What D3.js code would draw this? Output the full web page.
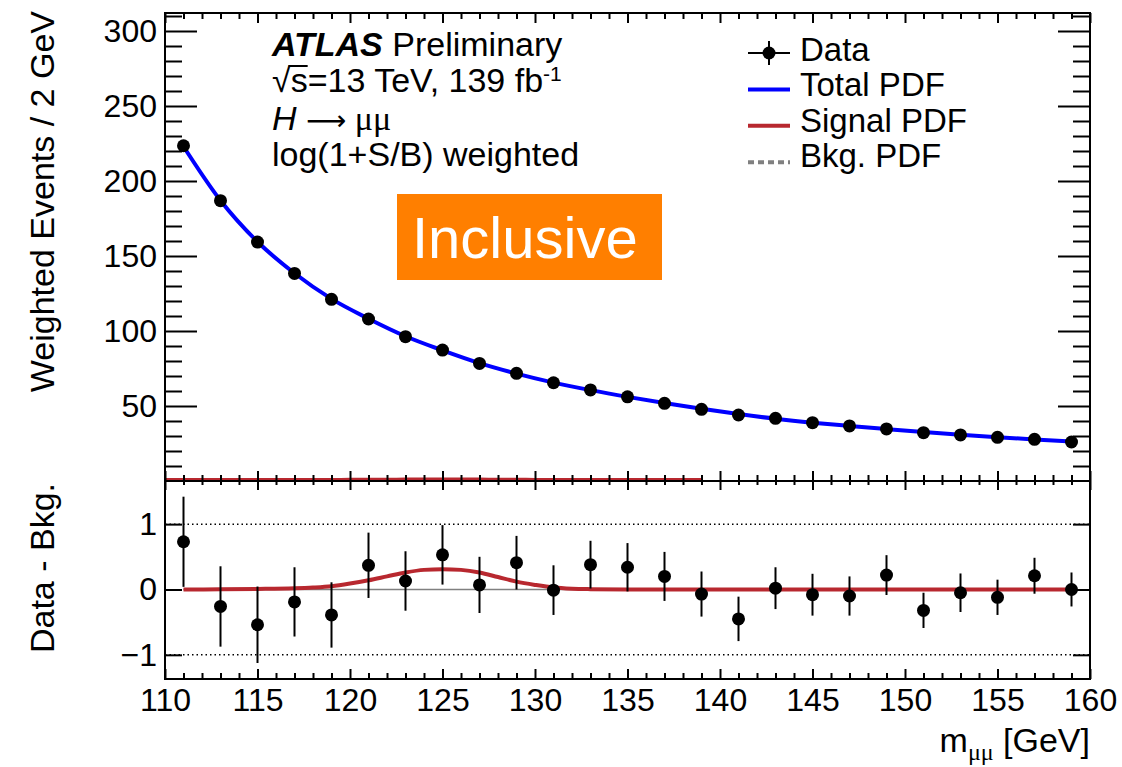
<!DOCTYPE html>
<html>
<head>
<meta charset="utf-8">
<script src="https://cdn.jsdelivr.net/npm/d3@7"></script>
<style>
  html, body { margin: 0; padding: 0; background: #fff; }
  svg { display: block; }
  text { font-family: "Liberation Sans", Arial, Helvetica, sans-serif; fill: #000; }
</style>
</head>
<body>
<svg id="chart" width="1122" height="767"></svg>
<script>
// Bin centres of the dimuon invariant mass [GeV]
const massBins = [111, 113, 115, 117, 119, 121, 123, 125, 127, 129, 131, 133, 135,
                  137, 139, 141, 143, 145, 147, 149, 151, 153, 155, 157, 159];

// Weighted events per 2 GeV bin
const weightedEvents = [223.5, 186.9, 159.3, 138.4, 121.1, 108.0, 96.2, 87.3, 78.4, 71.8, 65.5, 60.7, 56.1,
                        51.8, 47.8, 44.0, 41.8, 38.9, 36.7, 34.7, 32.2, 30.7, 29.1, 27.8, 26.0];

// Total PDF (signal + background) evaluated at the bin centres
const totalPdf = [223.0, 187.0, 159.5, 138.5, 121.4, 108.2, 96.5, 87.1, 78.6, 71.6, 65.6, 60.6, 56.1,
                  52.0, 48.1, 44.6, 41.5, 38.9, 36.7, 34.6, 32.6, 30.8, 29.2, 27.7, 26.3];

// Data minus background fit, with its uncertainty
const dataMinusBkg = [0.73, -0.26, -0.54, -0.19, -0.39, 0.37, 0.13, 0.53, 0.07, 0.41, -0.01, 0.38, 0.34,
                      0.20, -0.07, -0.45, 0.02, -0.08, -0.10, 0.22, -0.32, -0.05, -0.12, 0.21, 0.00];
const dataErr = [0.69, 0.615, 0.585, 0.53, 0.50, 0.50, 0.455, 0.455, 0.43, 0.41, 0.38, 0.365, 0.37,
                 0.375, 0.345, 0.34, 0.32, 0.32, 0.30, 0.305, 0.27, 0.295, 0.27, 0.275, 0.26];

// Signal PDF shape
const signalMass = [111, 113, 115, 117, 118, 119, 120, 121, 122, 123, 124, 125, 126, 127, 128,
                    129, 130, 131, 132, 133, 135, 137, 139, 145, 150, 159];
const signalPdf  = [0, 0.003, 0.008, 0.018, 0.03, 0.05, 0.09, 0.14, 0.20, 0.26, 0.30, 0.31, 0.30, 0.26, 0.19,
                    0.12, 0.07, 0.03, 0.012, 0.005, 0, 0, 0, 0, 0, 0];
// In the upper panel the signal curve is only drawn up to this mass
const signalTopEnd = 139;

// Axis ticks
const xMajorTicks = [110, 115, 120, 125, 130, 135, 140, 145, 150, 155, 160];
const xMinorTicks = d3.range(110, 160.01, 1);
const yTopMajorTicks = [50, 100, 150, 200, 250, 300];
const yTopMinorTicks = d3.range(10, 311, 10);
const yBotMajorTicks = [-1, 0, 1];

const legendLabels = ["Data", "Total PDF", "Signal PDF", "Bkg. PDF"];

// ---------------------------------------------------------------------------
const svg = d3.select("#chart");
const L = 165, R = 1090;
const topY0 = 13, topY1 = 481, botY0 = 481, botY1 = 679;

const x = d3.scaleLinear().domain([110, 160]).range([L, R]);
const yTop = d3.scaleLinear().domain([0, 312]).range([topY1, topY0]);
const yBot = d3.scaleLinear().domain([-1.37, 1.66]).range([botY1, botY0]);

const BLUE = "#0000ff", RED = "#b8282f", GREY = "#808080";
const tickFont = "32px";

function styleAxis(g) {
  g.select(".domain").remove();
  g.selectAll(".tick line").attr("stroke", "#000").attr("stroke-width", 2);
  g.selectAll(".tick text").style("font-size", tickFont).attr("fill", "#000");
}

// ---------------- upper panel ----------------
const upper = svg.append("g");

// signal PDF near zero in upper panel
const sigTopPts = signalMass.map((m, i) => [m, signalPdf[i]]).filter(d => d[0] <= signalTopEnd);
sigTopPts.unshift([110, 0]);
upper.append("path")
  .attr("d", d3.line().x(d => x(d[0])).y(d => yTop(d[1]) - 1).curve(d3.curveMonotoneX)(sigTopPts))
  .attr("fill", "none").attr("stroke", RED).attr("stroke-width", 4);

// total PDF
upper.append("path")
  .attr("d", d3.line().x((d, i) => x(massBins[i])).y(d => yTop(d)).curve(d3.curveMonotoneX)(totalPdf))
  .attr("fill", "none").attr("stroke", BLUE).attr("stroke-width", 4);

// data points
upper.selectAll("line.err").data(massBins).join("line")
  .attr("x1", d => x(d)).attr("x2", d => x(d))
  .attr("y1", (d, i) => yTop(weightedEvents[i] - dataErr[i]))
  .attr("y2", (d, i) => yTop(weightedEvents[i] + dataErr[i]))
  .attr("stroke", "#000").attr("stroke-width", 2);
upper.selectAll("circle").data(massBins).join("circle")
  .attr("cx", d => x(d)).attr("cy", (d, i) => yTop(weightedEvents[i]))
  .attr("r", 6.5).attr("fill", "#000");

// axes of upper panel
upper.append("g").attr("transform", `translate(${L},0)`)
  .call(d3.axisLeft(yTop).tickValues(yTopMajorTicks).tickSizeInner(-32).tickSizeOuter(0).tickPadding(8))
  .call(styleAxis);
upper.append("g").attr("transform", `translate(${L},0)`)
  .call(d3.axisLeft(yTop).tickValues(yTopMinorTicks.filter(v => v % 50 !== 0)).tickSizeInner(-17).tickSizeOuter(0).tickFormat(""))
  .call(styleAxis);
upper.append("g").attr("transform", `translate(${R},0)`)
  .call(d3.axisRight(yTop).tickValues(yTopMajorTicks).tickSizeInner(-32).tickSizeOuter(0).tickFormat(""))
  .call(styleAxis);
upper.append("g").attr("transform", `translate(${R},0)`)
  .call(d3.axisRight(yTop).tickValues(yTopMinorTicks.filter(v => v % 50 !== 0)).tickSizeInner(-17).tickSizeOuter(0).tickFormat(""))
  .call(styleAxis);
// x ticks on the upper panel (top edge and bottom edge)
[[topY0, d3.axisTop], [topY1, d3.axisBottom]].forEach(([yy, ax]) => {
  upper.append("g").attr("transform", `translate(0,${yy})`)
    .call(ax(x).tickValues(xMajorTicks).tickSizeInner(-10).tickSizeOuter(0).tickFormat("")).call(styleAxis);
  upper.append("g").attr("transform", `translate(0,${yy})`)
    .call(ax(x).tickValues(xMinorTicks.filter(v => v % 5 !== 0)).tickSizeInner(-6).tickSizeOuter(0).tickFormat("")).call(styleAxis);
});
// downward ticks just below the split line (lower panel top edge)
upper.append("g").attr("transform", `translate(0,${botY0})`)
  .call(d3.axisTop(x).tickValues(xMajorTicks).tickSizeInner(-9).tickSizeOuter(0).tickFormat("")).call(styleAxis);
upper.append("g").attr("transform", `translate(0,${botY0})`)
  .call(d3.axisTop(x).tickValues(xMinorTicks.filter(v => v % 5 !== 0)).tickSizeInner(-4).tickSizeOuter(0).tickFormat("")).call(styleAxis);

upper.append("rect").attr("x", L).attr("y", topY0).attr("width", R - L).attr("height", topY1 - topY0)
  .attr("fill", "none").attr("stroke", "#000").attr("stroke-width", 2);

// ---------------- lower panel ----------------
const lower = svg.append("g");

// reference lines at +-1
[1, -1].forEach(v => {
  lower.append("line").attr("x1", L).attr("x2", R).attr("y1", yBot(v)).attr("y2", yBot(v))
    .attr("stroke", "#000").attr("stroke-width", 1.5).attr("stroke-dasharray", "1.5,3");
});
// background (zero) line
lower.append("line").attr("x1", x(massBins[0])).attr("x2", x(massBins[massBins.length - 1]))
  .attr("y1", yBot(0)).attr("y2", yBot(0))
  .attr("stroke", GREY).attr("stroke-width", 1.5);
// signal PDF
lower.append("path")
  .attr("d", d3.line().x((d, i) => x(signalMass[i])).y(d => yBot(d)).curve(d3.curveMonotoneX)(signalPdf))
  .attr("fill", "none").attr("stroke", RED).attr("stroke-width", 4);
// data minus background
lower.selectAll("line.err").data(massBins).join("line")
  .attr("x1", d => x(d)).attr("x2", d => x(d))
  .attr("y1", (d, i) => yBot(dataMinusBkg[i] - dataErr[i]))
  .attr("y2", (d, i) => yBot(dataMinusBkg[i] + dataErr[i]))
  .attr("stroke", "#000").attr("stroke-width", 2);
lower.selectAll("circle").data(massBins).join("circle")
  .attr("cx", d => x(d)).attr("cy", (d, i) => yBot(dataMinusBkg[i]))
  .attr("r", 6.5).attr("fill", "#000");

// axes of lower panel
lower.append("g").attr("transform", `translate(${L},0)`)
  .call(d3.axisLeft(yBot).tickValues(yBotMajorTicks).tickSizeInner(-17).tickSizeOuter(0).tickPadding(8)
    .tickFormat(d => d < 0 ? "\u2212" + Math.abs(d) : String(d)))
  .call(styleAxis);
lower.append("g").attr("transform", `translate(${R},0)`)
  .call(d3.axisRight(yBot).tickValues(yBotMajorTicks).tickSizeInner(-17).tickSizeOuter(0).tickFormat(""))
  .call(styleAxis);
lower.append("g").attr("transform", `translate(0,${botY1})`)
  .call(d3.axisBottom(x).tickValues(xMajorTicks).tickSizeInner(-10).tickSizeOuter(0).tickPadding(9))
  .call(styleAxis);
lower.append("g").attr("transform", `translate(0,${botY1})`)
  .call(d3.axisBottom(x).tickValues(xMinorTicks.filter(v => v % 5 !== 0)).tickSizeInner(-6).tickSizeOuter(0).tickFormat(""))
  .call(styleAxis);

lower.append("rect").attr("x", L).attr("y", botY0).attr("width", R - L).attr("height", botY1 - botY0)
  .attr("fill", "none").attr("stroke", "#000").attr("stroke-width", 2);

// ---------------- axis titles ----------------
svg.append("text").attr("transform", "translate(54,11) rotate(-90)")
  .attr("text-anchor", "end").style("font-size", "34px").text("Weighted Events / 2 GeV");
svg.append("text").attr("transform", `translate(54,${botY0 + 2}) rotate(-90)`)
  .attr("text-anchor", "end").style("font-size", "34px").text("Data - Bkg.");
const xt = svg.append("text").attr("x", R).attr("y", 752).attr("text-anchor", "end").style("font-size", "34px");
xt.append("tspan").text("m");
xt.append("tspan").attr("dy", 8).style("font-size", "24px").style("font-family", "'Liberation Serif', serif").text("\u03bc\u03bc");
xt.append("tspan").attr("dy", -8).text(" [GeV]");

// ---------------- labels ----------------
const lab = svg.append("g").style("font-size", "34px");
const l1 = lab.append("text").attr("x", 272).attr("y", 56);
l1.append("tspan").style("font-weight", "bold").style("font-style", "italic").text("ATLAS");
l1.append("tspan").text(" Preliminary");

const l2 = lab.append("text").attr("x", 272).attr("y", 92);
l2.append("tspan").text("\u221a");
l2.append("tspan").text("s=13 TeV, 139 fb");
l2.append("tspan").attr("dy", -11).style("font-size", "21px").text("-1");
// bar of the square root over "s"
{
  const node = l2.node();
  const wRoot = node.getSubStringLength(0, 1);
  const wS = node.getSubStringLength(1, 1);
  lab.append("line").attr("x1", 272 + wRoot - 2).attr("x2", 272 + wRoot + wS)
    .attr("y1", 92 - 26).attr("y2", 92 - 26).attr("stroke", "#000").attr("stroke-width", 2);
}

const l3 = lab.append("text").attr("x", 272).attr("y", 130);
l3.append("tspan").style("font-style", "italic").text("H");
l3.append("tspan").text(" ");
l3.append("tspan").style("font-family", "'DejaVu Sans', sans-serif").style("font-size", "28px").text("\u27f6");
l3.append("tspan").style("font-family", "'Liberation Serif', serif").text(" \u03bc\u03bc");
lab.append("text").attr("x", 272).attr("y", 166).text("log(1+S/B) weighted");

// category box
svg.append("rect").attr("x", 397).attr("y", 194).attr("width", 265).attr("height", 86).attr("fill", "#ff7f00");
svg.append("text").attr("x", 412).attr("y", 258).style("font-size", "58px").style("fill", "#fff").text("Inclusive");

// ---------------- legend ----------------
const leg = svg.append("g");
const symX0 = 748, symX1 = 790, symStep = 36.4, txtStep = 35.3;
legendLabels.forEach((name, i) => {
  const sy = 53 + i * symStep;
  leg.append("text").attr("x", 800).attr("y", 61 + i * txtStep).style("font-size", "33px").text(name);
  if (i === 0) {
    leg.append("line").attr("x1", symX0).attr("x2", symX1).attr("y1", sy).attr("y2", sy)
      .attr("stroke", "#000").attr("stroke-width", 2);
    leg.append("line").attr("x1", 769).attr("x2", 769).attr("y1", sy - 12).attr("y2", sy + 12)
      .attr("stroke", "#000").attr("stroke-width", 2);
    leg.append("circle").attr("cx", 769).attr("cy", sy).attr("r", 6.5).attr("fill", "#000");
  } else {
    const col = [null, BLUE, RED, GREY][i];
    leg.append("line").attr("x1", symX0).attr("x2", symX1).attr("y1", sy).attr("y2", sy)
      .attr("stroke", col).attr("stroke-width", 4)
      .attr("stroke-dasharray", i === 3 ? "6,4" : null);
  }
});
</script>
</body>
</html>
